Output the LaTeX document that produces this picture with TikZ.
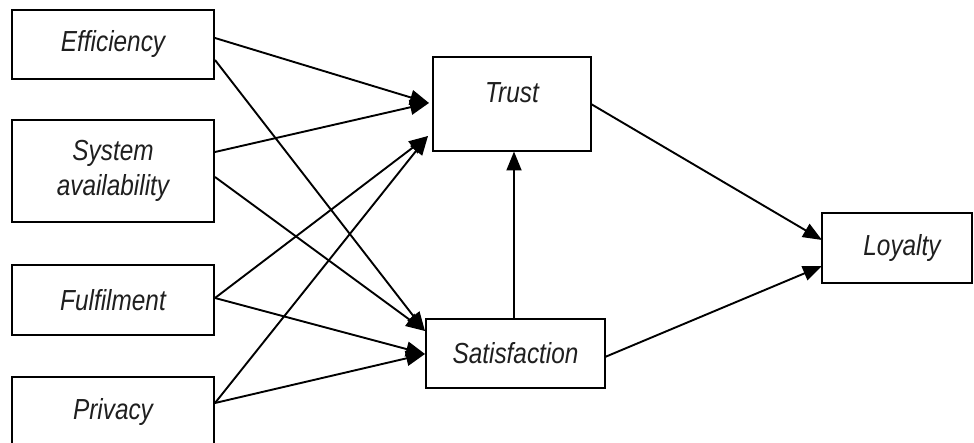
\documentclass[tikz,border=0pt]{standalone}
\usepackage{fontspec}
\setmainfont{Liberation Sans}[FakeStretch=0.84]
\usetikzlibrary{arrows.meta}
\begin{document}
\begin{tikzpicture}[x=1pt,y=-1pt,
  box/.style={draw=black, line width=1.5pt, fill=white, inner sep=0pt,
    font=\itshape\fontsize{29}{35}\selectfont, text=black!88, align=center},
  lbl/.style={font=\itshape\fontsize{29}{35}\selectfont, text=black!88},
  link/.style={line width=1.9pt, -{Triangle[length=19pt,width=15pt]}}]
\useasboundingbox (0,0) rectangle (974,443);
\clip (0,0) rectangle (974,443);
\fill[white] (0,0) rectangle (974,443);

% antecedent boxes
\node[box, minimum width=202pt, minimum height=69pt] (eff) at (113,44.5) {Efficiency};
\node[box, minimum width=202pt, minimum height=102pt] (sys) at (113,171) {System\\availability};
\node[box, minimum width=202pt, minimum height=70pt] (ful) at (113,300) {Fulfilment};
\node[box, minimum width=202pt, minimum height=70pt] (priv) at (113,412) {Privacy};

% mediators and outcome
\node[box, minimum width=158pt, minimum height=94pt] (trust) at (512,104) {};
\node[lbl] (trusttxt) at (512,92.5) {Trust};
\node[box, minimum width=179pt, minimum height=69pt] (sat) at (515.5,353.5) {Satisfaction};
\node[box, minimum width=150pt, minimum height=70pt] (loy) at (897,248) {};
\node[lbl] (loytxt) at (902,248) {Loyalty};

% arrow ports
\coordinate (effA) at (215,38);
\coordinate (effB) at (215,60);
\coordinate (sysA) at (215,152);
\coordinate (sysB) at (215,177);
\coordinate (fulA) at (215,298);
\coordinate (privA) at (215,403);
\coordinate (trustIn1) at (429,103);
\coordinate (trustIn2) at (428,136);
\coordinate (satIn1) at (425,331);
\coordinate (satIn2) at (425,354);
\coordinate (trustOut) at (591,104);
\coordinate (satOut) at (605,357);
\coordinate (satTop) at (514,319);
\coordinate (trustBot) at (514,151.5);
\coordinate (loyIn1) at (822,240);
\coordinate (loyIn2) at (822,266);

% paths
\draw[link] (effA) -- (trustIn1);
\draw[link] (sysA) -- (trustIn1);
\draw[link] (effB) -- (satIn1);
\draw[link] (sysB) -- (satIn1);
\draw[link] (fulA) -- (trustIn2);
\draw[link] (privA) -- (trustIn2);
\draw[link] (fulA) -- (satIn2);
\draw[link] (privA) -- (satIn2);
\draw[link] (satTop) -- (trustBot);
\draw[link] (trustOut) -- (loyIn1);
\draw[link] (satOut) -- (loyIn2);
\end{tikzpicture}
\end{document}
